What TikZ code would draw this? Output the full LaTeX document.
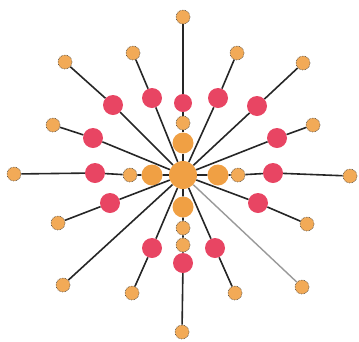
\documentclass[tikz,border=0pt]{standalone}
\usepackage{xcolor}
\definecolor{hubor}{HTML}{F0A044}
\definecolor{petalred}{HTML}{E84563}
\tikzstyle{hub} = [circle, minimum size=28pt, inner sep=0pt, fill=hubor]
\tikzstyle{mid} = [circle, minimum size=21pt, inner sep=0pt, fill=hubor]
\tikzstyle{dot} = [circle, minimum size=14pt, inner sep=0pt, fill=hubor!90!white,
    draw=black!75, densely dotted, line width=0.6pt]
\tikzstyle{petal} = [circle, minimum size=20pt, inner sep=0pt, fill=petalred]
\tikzstyle{spoke} = [line width=1.6pt, black!85]
\tikzstyle{faint} = [line width=1.4pt, black!40]

\begin{document}
\begin{tikzpicture}[x=1pt, y=-1pt]
\useasboundingbox (0,0) rectangle (359,341);
% --- centro ---
\node (hub) [hub] at (183,175) {};
\node (midN) [mid] at (183,143) {};
\node (midS) [mid] at (183,207) {};
\node (midW) [mid] at (152,175) {};
\node (midE) [mid] at (218,175) {};
\node (dotN) [dot] at (183,123) {};
\node (dotS) [dot] at (183,228) {};
\node (dotSS) [dot] at (183,245) {};
\node (dotW) [dot] at (130,175) {};
\node (dotE) [dot] at (238,175) {};

% --- anillo rojo ---
\node (redN) [petal, minimum size=18pt] at (183,103) {};
\node (redNNW) [petal] at (152,98) {};
\node (redNNE) [petal] at (218,98) {};
\node (redNW) [petal] at (113,105) {};
\node (redNE) [petal] at (257,106) {};
\node (redWNW) [petal] at (93,138) {};
\node (redENE) [petal] at (277,138) {};
\node (redW) [petal] at (95,173) {};
\node (redE) [petal] at (273,173) {};
\node (redWSW) [petal] at (110,203) {};
\node (redESE) [petal] at (258,203) {};
\node (redSSW) [petal] at (152,248) {};
\node (redSSE) [petal] at (215,248) {};
\node (redS) [petal] at (183,263) {};

% --- puntas ---
\node (tipN) [dot] at (183,17) {};
\node (tipNNW) [dot] at (133,53) {};
\node (tipNNE) [dot] at (237,53) {};
\node (tipNW) [dot] at (65,62) {};
\node (tipNE) [dot] at (303,63) {};
\node (tipWNW) [dot] at (53,125) {};
\node (tipENE) [dot] at (313,125) {};
\node (tipW) [dot] at (14,174) {};
\node (tipE) [dot] at (350,176) {};
\node (tipWSW) [dot] at (58,223) {};
\node (tipESE) [dot] at (307,224) {};
\node (tipSW) [dot] at (63,285) {};
\node (tipSE) [dot] at (302,287) {};
\node (tipSSW) [dot] at (132,293) {};
\node (tipSSE) [dot] at (235,293) {};
\node (tipS) [dot] at (182,332) {};

% --- ejes ---
\draw[spoke] (hub) -- (midN) -- (dotN) -- (redN) -- (tipN);
\draw[spoke] (hub) -- (midS) -- (dotS) -- (dotSS) -- (redS) -- (tipS);
\draw[spoke] (hub) -- (midW) -- (dotW) -- (redW) -- (tipW);
\draw[spoke] (hub) -- (midE) -- (dotE) -- (redE) -- (tipE);

% --- radios ---
\draw[spoke] (hub) -- (redNNW) -- (tipNNW);
\draw[spoke] (hub) -- (redNNE) -- (tipNNE);
\draw[spoke] (hub) -- (redNW) -- (tipNW);
\draw[spoke] (hub) -- (redNE) -- (tipNE);
\draw[spoke] (hub) -- (redWNW) -- (tipWNW);
\draw[spoke] (hub) -- (redENE) -- (tipENE);
\draw[spoke] (hub) -- (redWSW) -- (tipWSW);
\draw[spoke] (hub) -- (redESE) -- (tipESE);
\draw[spoke] (hub) -- (redSSW) -- (tipSSW);
\draw[spoke] (hub) -- (redSSE) -- (tipSSE);
\draw[spoke] (hub) -- (tipSW);
\draw[faint] (hub) -- (tipSE);
\end{tikzpicture}
\end{document}
